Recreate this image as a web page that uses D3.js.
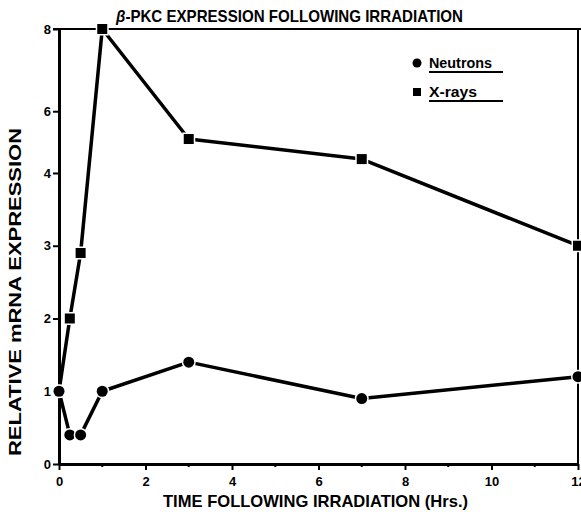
<!DOCTYPE html>
<html>
<head>
<meta charset="utf-8">
<script src="https://cdn.jsdelivr.net/npm/d3@7"></script>
<style>
  body { margin: 0; background: #fff; }
  text { font-family: "Liberation Sans", Arial, sans-serif; font-weight: bold; fill: #000; }
</style>
</head>
<body>
<div id="chart"></div>
<script>
// data
var hours      = [0, 0.25, 0.5, 1, 3, 7, 12];
var neutrons   = [1, 0.4, 0.4, 1, 1.4, 0.9, 1.2];
var xrays      = [1, 2, 2.9, 8, 5.1, 4.45, 3.0];
var xTicks     = [0, 2, 4, 6, 8, 10, 12];
var xMinor     = [1, 3, 5, 7, 9, 11];
var yTicks     = [0, 1, 2, 3, 4, 6, 8];
var seriesNames = ["Neutrons", "X-rays"];

var W = 581, H = 512;
var margin = { left: 59, right: 3, top: 29, bottom: 48 };
var width = W - margin.left - margin.right,
    height = H - margin.top - margin.bottom;

var svg = d3.select("#chart").append("svg")
    .attr("width", W)
    .attr("height", H);

var g = svg.append("g")
    .attr("transform", "translate(" + margin.left + "," + margin.top + ")");

var x = d3.scaleLinear().domain([0, 12]).range([0, width]);
// the printed axis is not even above 4
var y = d3.scaleLinear()
    .domain([0, 4, 6, 8])
    .range([height, height * 0.331, height * 0.189, 0]);

// frame (top + right)
g.append("line").attr("x1", -6).attr("x2", W).attr("y1", 0).attr("y2", 0)
    .attr("stroke", "#000").attr("stroke-width", 2);
g.append("line").attr("x1", width).attr("x2", width).attr("y1", 0).attr("y2", height)
    .attr("stroke", "#000").attr("stroke-width", 2);

// X axis
var xAxis = g.append("g")
    .attr("transform", "translate(0," + height + ")")
    .call(d3.axisBottom(x).tickValues(xTicks).tickSize(6).tickSizeOuter(0).tickFormat(d3.format("d")));
xAxis.select(".domain").attr("stroke-width", 3);
xAxis.selectAll(".tick line").attr("stroke-width", 2);
xAxis.selectAll("text").attr("font-size", "13px").attr("y", 10).attr("dy", "0.9em");

g.append("g")
    .attr("transform", "translate(0," + height + ")")
    .selectAll("line").data(xMinor).enter()
    .append("line")
        .attr("x1", d => x(d)).attr("x2", d => x(d))
        .attr("y1", 0).attr("y2", 3)
        .attr("stroke", "#000").attr("stroke-width", 2);

// Y axis
var yAxis = g.append("g")
    .call(d3.axisLeft(y).tickValues(yTicks).tickSize(6).tickSizeOuter(0).tickFormat(d3.format("d")));
yAxis.select(".domain").attr("stroke-width", 3);
yAxis.selectAll(".tick line").attr("stroke-width", 2);
yAxis.selectAll("text").attr("font-size", "13px").attr("x", -8);

// lines
var pts = (vals) => hours.map((h, i) => [h, vals[i]]);
var line = d3.line().x(d => x(d[0])).y(d => y(d[1]));

[neutrons, xrays].forEach(function(vals) {
    g.append("path")
        .datum(pts(vals))
        .attr("d", line)
        .attr("fill", "none")
        .attr("stroke", "#000")
        .attr("stroke-width", 3.5)
        .attr("stroke-linejoin", "round");
});

// markers, white halo makes the small gaps in the print
g.selectAll(".sq").data(pts(xrays)).enter()
    .append("rect")
        .attr("class", "sq")
        .attr("x", d => x(d[0]) - 5).attr("y", d => y(d[1]) - 5)
        .attr("width", 10).attr("height", 10)
        .attr("fill", "#000").attr("stroke", "#fff").attr("stroke-width", 3)
        .attr("paint-order", "stroke");

g.selectAll(".dot").data(pts(neutrons)).enter()
    .append("circle")
        .attr("class", "dot")
        .attr("cx", d => x(d[0])).attr("cy", d => y(d[1]))
        .attr("r", 5.5)
        .attr("fill", "#000").attr("stroke", "#fff").attr("stroke-width", 3)
        .attr("paint-order", "stroke");

// legend
var legend = svg.append("g").attr("transform", "translate(417,63)");
var legendW = [63, 48];
seriesNames.forEach(function(name, i) {
    var row = legend.append("g").attr("transform", "translate(0," + (i * 29) + ")");
    if (i == 0) {
        row.append("circle").attr("r", 4.5).attr("fill", "#000");
    } else {
        row.append("rect").attr("x", -4).attr("y", -4).attr("width", 8).attr("height", 8).attr("fill", "#000");
    }
    row.append("text")
        .attr("x", 12).attr("y", 5)
        .attr("font-size", "14px")
        .attr("textLength", legendW[i])
        .attr("lengthAdjust", "spacingAndGlyphs")
        .text(name);
    row.append("line")
        .attr("x1", 12).attr("x2", 86).attr("y1", 9).attr("y2", 9)
        .attr("stroke", "#000").attr("stroke-width", 2);
});

// title
var title = svg.append("text")
    .attr("x", 116).attr("y", 22)
    .attr("font-size", "17px")
    .attr("textLength", 347)
    .attr("lengthAdjust", "spacingAndGlyphs");
title.append("tspan").attr("font-style", "italic").text("β");
title.append("tspan").text("-PKC EXPRESSION FOLLOWING IRRADIATION");

// axis labels
svg.append("text")
    .attr("x", 163).attr("y", 507)
    .attr("font-size", "17px")
    .attr("textLength", 305)
    .attr("lengthAdjust", "spacingAndGlyphs")
    .text("TIME FOLLOWING IRRADIATION (Hrs.)");

svg.append("text")
    .attr("transform", "translate(21,292) rotate(-90)")
    .attr("text-anchor", "middle")
    .attr("font-size", "17px")
    .attr("textLength", 328)
    .attr("lengthAdjust", "spacingAndGlyphs")
    .text("RELATIVE mRNA EXPRESSION");
</script>
</body>
</html>
